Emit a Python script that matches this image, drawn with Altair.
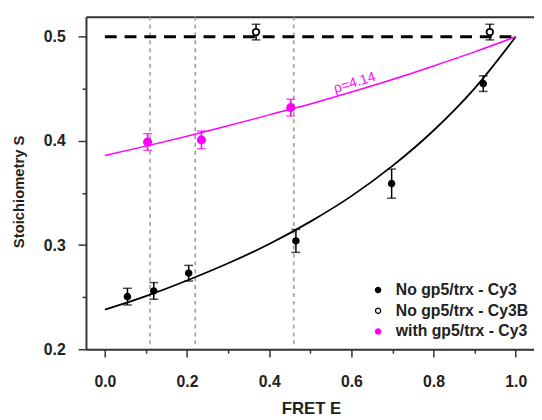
import altair as alt
import pandas as pd

# ---- data ----
names = ["No gp5/trx - Cy3", "No gp5/trx - Cy3B", "with gp5/trx - Cy3"]

black_E = [0.055, 0.119, 0.204, 0.465, 0.698, 0.921]
black_S = [0.2505, 0.256, 0.273, 0.304, 0.359, 0.455]
black_err = [0.008, 0.008, 0.0075, 0.011, 0.014, 0.0075]

open_E = [0.368, 0.937]
open_S = [0.5045, 0.5045]
open_err = [0.0075, 0.0075]

mag_E = [0.104, 0.235, 0.4525]
mag_S = [0.399, 0.401, 0.432]
mag_err = [0.008, 0.0085, 0.008]

fit_E = [0.0, 0.1, 0.2, 0.3, 0.4, 0.5, 0.6, 0.7, 0.8, 0.9, 1.0]
fit_black_S = [0.238, 0.251, 0.266, 0.2825, 0.301, 0.3225, 0.347, 0.376, 0.41, 0.4505, 0.5]
fit_mag_S = [0.386, 0.395, 0.4045, 0.4145, 0.425, 0.4355, 0.447, 0.459, 0.472, 0.4855, 0.5]

vline_E = [0.11, 0.22, 0.46]
hline_x0 = [0.0]
hline_x1 = [1.0]
hline_S = [0.5]

note_E = [0.608]
note_S = [0.4557]
note_txt = ["\u03c1=4.14"]

x_major = [0.0, 0.2, 0.4, 0.6, 0.8, 1.0]
x_minor = [0.1, 0.3, 0.5, 0.7, 0.9]
y_major = [0.2, 0.3, 0.4, 0.5]
y_minor = [0.25, 0.35, 0.45]

MAG = "#ff00ff"
FONT = "Liberation Sans"

# ---- tables ----
pts = pd.DataFrame({
    "series": [names[0]] * len(black_E) + [names[1]] * len(open_E) + [names[2]] * len(mag_E),
    "E": black_E + open_E + mag_E,
    "S": black_S + open_S + mag_S,
    "err": black_err + open_err + mag_err,
})
pts["lo"] = pts["S"] - pts["err"]
pts["hi"] = pts["S"] + pts["err"]
pts["grp"] = pts["series"]

fits = pd.DataFrame({"E": fit_E, "black": fit_black_S, "mag": fit_mag_S})
vlines = pd.DataFrame({"E": vline_E})
hline = pd.DataFrame({"x0": hline_x0, "x1": hline_x1, "S": hline_S})
note = pd.DataFrame({"E": note_E, "S": note_S, "t": note_txt})

xs = alt.Scale(domain=[-0.046, 1.0445], nice=False, zero=False)
ys = alt.Scale(domain=[0.2, 0.5193], nice=False, zero=False)

common_axis = dict(grid=False, tickColor="#333", tickWidth=1.5, domainColor="#333",
                   domainWidth=2, labelColor="#222", labelFont=FONT, titleFont=FONT,
                   titleColor="#222")

main_x = alt.Axis(values=x_major, format=".1f", tickSize=8, labelPadding=17,
                  labelFontSize=16, labelFontWeight="bold", labelFlush=False,
                  labelOverlap=False, orient="bottom",
                  title="FRET E", titleFontSize=17, titleFontWeight="bold",
                  titleX=228, titleY=65, titleBaseline="alphabetic", titleAlign="center",
                  **common_axis)
minor_x = alt.Axis(values=x_minor, tickSize=4, labels=False, domain=False, title=None,
                   orient="bottom", grid=False, tickColor="#333", tickWidth=1.5)
top_x = alt.Axis(orient="top", labels=False, ticks=False, domain=True, title=None,
                 grid=False, domainColor="#333", domainWidth=2)
main_y = alt.Axis(values=y_major, format=".1f", tickSize=8, labelPadding=13,
                  labelFontSize=16, labelFontWeight="bold", labelFlush=False,
                  labelOverlap=False, orient="left",
                  title="Stoichiometry S", titleFontSize=15, titleFontWeight="bold",
                  titleX=-63, titleY=177, titleAngle=270, titleAlign="center",
                  titleBaseline="alphabetic", **common_axis)
minor_y = alt.Axis(values=y_minor, tickSize=4, labels=False, domain=False, title=None,
                   orient="left", grid=False, tickColor="#333", tickWidth=1.5)

vl = alt.Chart(vlines).mark_rule(color="#999", strokeWidth=1.5, strokeDash=[4, 4]).encode(
    x=alt.X("E:Q", scale=xs, axis=top_x)
)

hl = alt.Chart(hline).mark_rule(color="black", strokeWidth=3, strokeDash=[12, 8]).encode(
    x=alt.X("x0:Q", scale=xs, axis=None), x2="x1:Q",
    y=alt.Y("S:Q", scale=ys, axis=None)
)

fit_b = alt.Chart(fits).mark_line(color="black", strokeWidth=1.8, interpolate="monotone").encode(
    x=alt.X("E:Q", scale=xs, axis=main_x),
    y=alt.Y("black:Q", scale=ys, axis=main_y)
)

fit_m = alt.Chart(fits).mark_line(color=MAG, strokeWidth=1.5, interpolate="monotone").encode(
    x=alt.X("E:Q", scale=xs, axis=minor_x),
    y=alt.Y("mag:Q", scale=ys, axis=minor_y)
)

bar_color = alt.Color("grp:N", scale=alt.Scale(range=["black", "black", MAG]), legend=None)

bars = alt.Chart(pts).mark_rule(strokeWidth=1.5).encode(
    x=alt.X("E:Q", scale=xs, axis=None),
    y=alt.Y("lo:Q", scale=ys, axis=None), y2="hi:Q",
    color=bar_color
)
cap_lo = alt.Chart(pts).mark_tick(orient="horizontal", size=9, thickness=1.5).encode(
    x=alt.X("E:Q", scale=xs, axis=None),
    y=alt.Y("lo:Q", scale=ys, axis=None),
    color=bar_color
)
cap_hi = alt.Chart(pts).mark_tick(orient="horizontal", size=9, thickness=1.5).encode(
    x=alt.X("E:Q", scale=xs, axis=None),
    y=alt.Y("hi:Q", scale=ys, axis=None),
    color=bar_color
)

leg = alt.Legend(title=None, orient="none", legendX=288, legendY=269, padding=0,
                 labelFontSize=16, labelFontWeight="bold", labelFont=FONT, labelColor="#222",
                 symbolSize=28, symbolStrokeWidth=1.3, labelOffset=10, rowPadding=5,
                 symbolType="circle")

points = alt.Chart(pts).mark_point(shape="circle", strokeWidth=1.8, opacity=1).encode(
    x=alt.X("E:Q", scale=xs, axis=None),
    y=alt.Y("S:Q", scale=ys, axis=None),
    fill=alt.Fill("series:N", scale=alt.Scale(domain=names, range=["black", "white", MAG]),
                  legend=leg),
    stroke=alt.Stroke("series:N", scale=alt.Scale(domain=names, range=["black", "black", MAG]),
                      legend=leg),
    size=alt.Size("grp:N", scale=alt.Scale(range=[34, 55, 34]), legend=None),
)

txt = alt.Chart(note).mark_text(color=MAG, fontSize=14, font=FONT, angle=343,
                                align="center", baseline="middle").encode(
    x=alt.X("E:Q", scale=xs, axis=None),
    y=alt.Y("S:Q", scale=ys, axis=None),
    text="t:N"
)

chart = alt.layer(vl, hl, fit_b, fit_m, bars, cap_lo, cap_hi, points, txt).resolve_axis(
    x="independent", y="independent"
).properties(
    width=454, height=337, autosize="none",
    padding={"left": 79, "top": 6, "right": 0, "bottom": 74}
).configure_view(stroke=None).configure(font=FONT)

chart.save("out.html", embed_options={"renderer": "svg", "actions": False})
